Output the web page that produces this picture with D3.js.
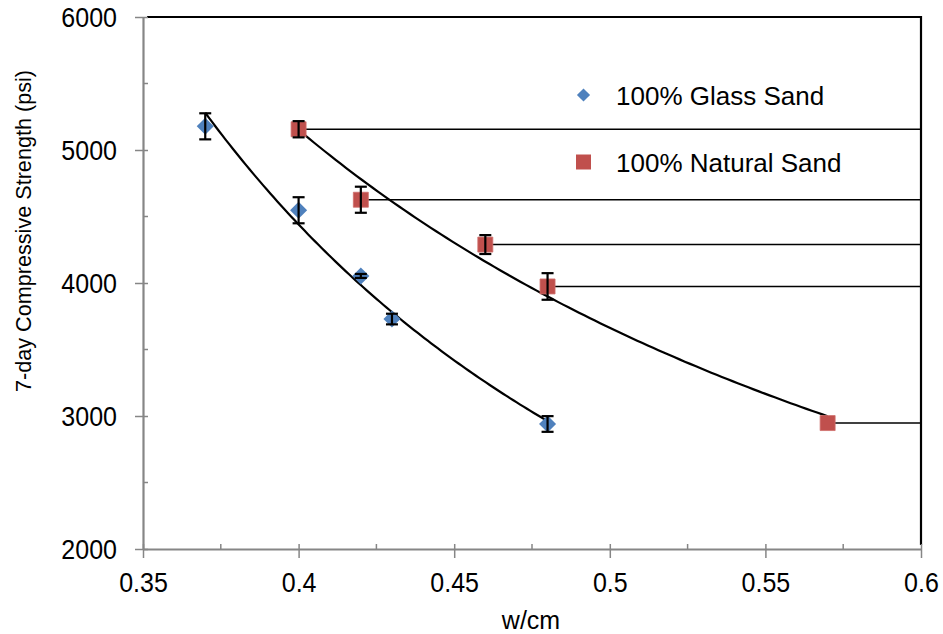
<!DOCTYPE html>
<html>
<head>
<meta charset="utf-8">
<script src="https://cdn.jsdelivr.net/npm/d3@7"></script>
<style>
  body { margin: 0; background: #fff; }
  svg { display: block; font-family: "Liberation Sans", Arial, sans-serif; }
</style>
</head>
<body>
<svg width="943" height="634"></svg>
<script>
// data
const wcGlass = [0.37, 0.40, 0.42, 0.43, 0.48];
const strengthGlass = [5178, 4547, 4053, 3729, 2940];
const errGlass = [98, 98, 15, 40, 59];

const wcNatural = [0.40, 0.42, 0.46, 0.48, 0.57];
const strengthNatural = [5156, 4626, 4289, 3974, 2947];
const errNatural = [61, 98, 71, 100, 0];

const seriesNames = ["100% Glass Sand", "100% Natural Sand"];
const xTicks = [0.35, 0.4, 0.45, 0.5, 0.55, 0.6];
const yTicks = [2000, 3000, 4000, 5000, 6000];
const xTitle = "w/cm";
const yTitle = "7-day Compressive Strength (psi)";

const width = 943, height = 634;
const svg = d3.select("svg");
const axisGrey = "#868686";
const blue = "#4F81BD", red = "#C0504D";

const x = d3.scaleLinear().domain([0.35, 0.6]).range([143, 921]);
const y = d3.scaleLinear().domain([2000, 6000]).range([549, 17]);

// tick labels in the picture are a bit taller than wide: big font, squeezed width
function squeeze(sel, size, widthSize) {
  sel.attr("font-size", size).each(function() {
    const len = this.getComputedTextLength();
    d3.select(this)
      .attr("textLength", len * widthSize / size)
      .attr("lengthAdjust", "spacingAndGlyphs");
  });
}

// plot area border (top + right in black)
svg.append("path")
  .attr("d", `M${x(0.35) + 4},${y(6000)}H${x(0.6)}V${y(2000) - 4}`)
  .attr("fill", "none")
  .attr("stroke", "#000")
  .attr("stroke-width", 2.2);

// minor ticks
svg.append("g").selectAll("line")
  .data(d3.range(2500, 6000, 1000))
  .join("line")
  .attr("x1", x(0.35)).attr("x2", x(0.35) + 5)
  .attr("y1", d => y(d)).attr("y2", d => y(d))
  .attr("stroke", axisGrey).attr("stroke-width", 1.5);
svg.append("g").selectAll("line")
  .data(d3.range(0.375, 0.6, 0.05))
  .join("line")
  .attr("x1", d => x(d)).attr("x2", d => x(d))
  .attr("y1", y(2000)).attr("y2", y(2000) - 5)
  .attr("stroke", axisGrey).attr("stroke-width", 1.5);

// x axis
const gx = svg.append("g")
  .attr("transform", `translate(0,${y(2000)})`)
  .call(d3.axisBottom(x).tickValues(xTicks).tickFormat(d => String(d)).tickSize(9).tickSizeOuter(0));
gx.select(".domain").attr("stroke", axisGrey).attr("stroke-width", 2.2);
gx.selectAll(".tick line").attr("y1", -5).attr("stroke", axisGrey).attr("stroke-width", 1.5);
gx.selectAll(".tick text")
  .attr("y", 43).attr("dy", 0)
  .attr("font-family", "Liberation Sans, Arial, sans-serif")
  .attr("fill", "#000")
  .call(squeeze, 27, 25);

// y axis
const gy = svg.append("g")
  .attr("transform", `translate(${x(0.35)},0)`)
  .call(d3.axisLeft(y).tickValues(yTicks).tickFormat(d => String(d)).tickSize(8).tickSizeOuter(0));
gy.select(".domain").attr("stroke", axisGrey).attr("stroke-width", 2.2);
gy.selectAll(".tick line").attr("x1", 5).attr("stroke", axisGrey).attr("stroke-width", 1.5);
gy.selectAll(".tick text")
  .attr("x", -26).attr("dy", "0.36em")
  .attr("font-family", "Liberation Sans, Arial, sans-serif")
  .attr("fill", "#000")
  .call(squeeze, 27, 25);

// axis titles
svg.append("text")
  .attr("x", 531).attr("y", 629)
  .attr("text-anchor", "middle")
  .attr("font-size", 25)
  .text(xTitle);
svg.append("text")
  .attr("transform", "translate(31,231) rotate(-90)")
  .attr("text-anchor", "middle")
  .attr("font-size", 22)
  .attr("textLength", 322)
  .attr("lengthAdjust", "spacingAndGlyphs")
  .text(yTitle);

// power trendline y = a * x^b, least squares in log space
function powerFit(xs, ys) {
  const lx = xs.map(Math.log), ly = ys.map(Math.log);
  const mx = d3.mean(lx), my = d3.mean(ly);
  const b = d3.sum(lx, (v, i) => (v - mx) * (ly[i] - my)) / d3.sum(lx, v => (v - mx) ** 2);
  const a = Math.exp(my - b * mx);
  return v => a * Math.pow(v, b);
}

const line = d3.line().x(d => x(d[0])).y(d => y(d[1]));

const series = [
  { wc: wcGlass, s: strengthGlass, err: errGlass, color: blue, shape: d3.symbolDiamond2 },
  { wc: wcNatural, s: strengthNatural, err: errNatural, color: red, shape: d3.symbolSquare }
];

// horizontal lines from natural sand points to the right border
svg.append("g").selectAll("line")
  .data(wcNatural.map((w, i) => [w, strengthNatural[i]]))
  .join("line")
  .attr("x1", d => x(d[0])).attr("x2", x(0.6))
  .attr("y1", d => y(d[1])).attr("y2", d => y(d[1]))
  .attr("stroke", "#000").attr("stroke-width", 1.4);

series.forEach(sr => {
  const pts = sr.wc.map((w, i) => ({ w, s: sr.s[i], e: sr.err[i] }));

  const f = powerFit(sr.wc, sr.s);
  const [lo, hi] = d3.extent(sr.wc);
  const curve = d3.range(0, 101).map(k => {
    const v = lo + (hi - lo) * k / 100;
    return [v, f(v)];
  });
  svg.append("path")
    .attr("d", line(curve))
    .attr("fill", "none")
    .attr("stroke", "#000")
    .attr("stroke-width", 2.2);

  // markers
  svg.append("g").selectAll("path")
    .data(pts)
    .join("path")
    .attr("transform", d => `translate(${x(d.w)},${y(d.s)})`)
    .attr("d", d3.symbol(sr.shape, sr.shape === d3.symbolSquare ? 225 : 185))
    .attr("fill", sr.color)
    .attr("stroke", sr.shape === d3.symbolSquare ? "#cf6f6c" : "none")
    .attr("stroke-width", 0.8);

  // error bars
  const eb = svg.append("g").attr("stroke", "#000").attr("stroke-width", 2.2)
    .selectAll("g")
    .data(pts.filter(d => d.e > 0))
    .join("g");
  eb.append("line")
    .attr("x1", d => x(d.w)).attr("x2", d => x(d.w))
    .attr("y1", d => y(d.s + d.e)).attr("y2", d => y(d.s - d.e));
  eb.selectAll("line.cap")
    .data(d => [[d.w, d.s + d.e], [d.w, d.s - d.e]])
    .join("line")
    .attr("class", "cap")
    .attr("x1", d => x(d[0]) - 6).attr("x2", d => x(d[0]) + 6)
    .attr("y1", d => y(d[1])).attr("y2", d => y(d[1]));
});

// legend
const legend = svg.append("g");
const legendY = [95, 162];
seriesNames.forEach((name, i) => {
  legend.append("path")
    .attr("transform", `translate(583.5,${legendY[i]})`)
    .attr("d", d3.symbol(series[i].shape, i === 0 ? 110 : 225))
    .attr("fill", series[i].color);
  legend.append("text")
    .attr("x", 616).attr("y", legendY[i] + 9.5)
    .attr("font-size", 26)
    .text(name);
});
</script>
</body>
</html>
